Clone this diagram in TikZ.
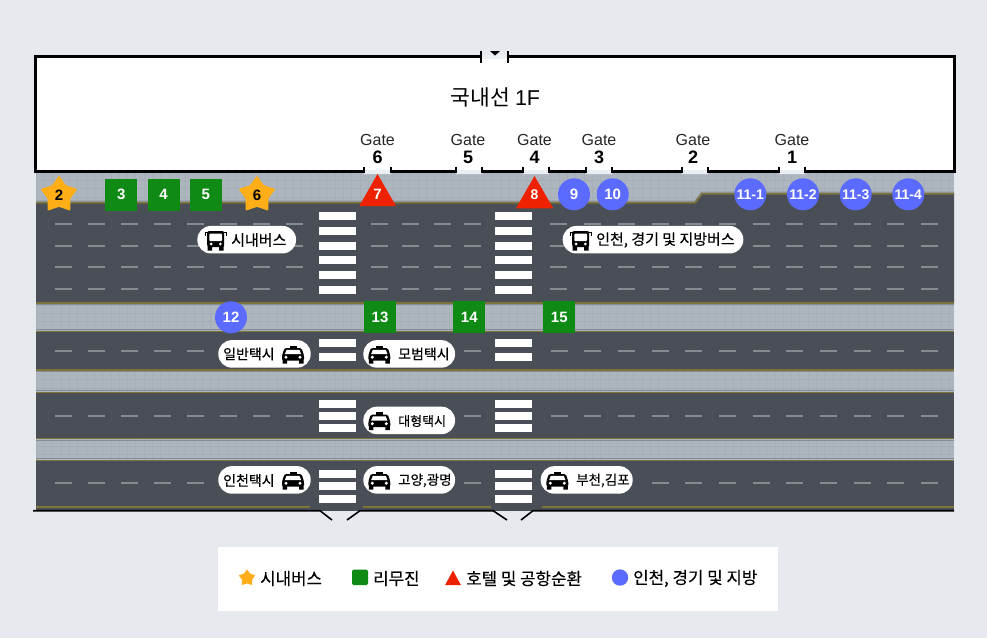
\documentclass[tikz,border=0pt]{standalone}
\usepackage{fontspec}
\setmainfont{Noto Sans CJK KR}
\newfontfamily\medf[FakeBold=0.25]{Noto Sans CJK KR}
\newfontfamily\latinf{Liberation Sans}
\usetikzlibrary{shapes.geometric}
\definecolor{bgc}{HTML}{E6EAEE}
\definecolor{walkc}{HTML}{ADB5BE}
\definecolor{gridc}{HTML}{A6AEB8}
\definecolor{edgec}{HTML}{868D95}
\definecolor{roadc}{HTML}{4A4F57}
\definecolor{yellowc}{HTML}{7C7438}
\definecolor{dashc}{HTML}{868A91}
\definecolor{greenc}{HTML}{0F8A15}
\definecolor{redc}{HTML}{EE2200}
\definecolor{bluec}{HTML}{5B6BFF}
\definecolor{starc}{HTML}{FFAE17}
\definecolor{doorc}{HTML}{ECEFF1}
\newcommand{\fsz}[1]{\fontsize{#1}{#1}\selectfont}
\tikzset{
  x=1pt,y=-1pt,
  wall/.style={draw=black,line width=3pt,line cap=butt,line join=miter},
  edgeline/.style={draw=edgec,line width=1pt},
  yline/.style={draw=yellowc,line width=1.7pt},
  lanedash/.style={draw=dashc,line width=2pt},
  zebra/.style={fill=white,draw=none},
  pill/.style={fill=white,draw=none,rounded corners=13.5pt,minimum height=27.5pt,inner sep=0pt},
  pilltext/.style={anchor=west,inner sep=0pt,text=black},
  gatetext/.style={inner sep=0pt,font=\latinf\fsz{16},text=black!85},
  gatenum/.style={inner sep=0pt,font=\latinf\bfseries\fsz{18},text=black},
  numtext/.style={text=white,font=\latinf\bfseries\fsz{15}},
  sq/.style={fill=greenc,draw=none,minimum size=32pt,inner sep=0pt,numtext},
  circ/.style={circle,fill=bluec,draw=none,minimum size=32pt,inner sep=0pt,numtext},
  starmark/.style={star,star points=5,star point ratio=1.65,fill=starc,draw=none,minimum size=39pt,inner sep=0pt,rounded corners=1.2pt,text=black,font=\latinf\bfseries\fsz{15}},
  trimark/.style={fill=redc,draw=none},
  legendtext/.style={anchor=west,inner sep=0pt,text=black,font=\medf\fsz{16.8}},
  busicon/.pic={
    \fill[black,rounded corners=2pt] (-8.5,-9) rectangle (8.5,7);
    \fill[black] (-8,6) rectangle (-3.5,10.5) (3.5,6) rectangle (8,10.5);
    \fill[white,rounded corners=.8pt] (-6.3,-6.3) rectangle (6.3,1);
    \fill[white] (-4.6,4) circle (1.5pt) (4.6,4) circle (1.5pt);
    \draw[black,line width=1.4pt] (-8,-7.5) -- (-10.5,-7.5) -- (-10.5,-4.5) (8,-7.5) -- (10.5,-7.5) -- (10.5,-4.5);
  },
  taxiicon/.pic={
    \fill[black] (-3.5,-9) rectangle (3.5,-6);
    \fill[black,rounded corners=1.5pt] (-8.5,-6.5) -- (8.5,-6.5) -- (11,1) -- (11,6) -- (-11,6) -- (-11,1) -- cycle;
    \fill[white] (-6.5,-4.6) -- (6.5,-4.6) -- (8.2,-.3) -- (-8.2,-.3) -- cycle;
    \fill[black] (-10.5,5) rectangle (-6,9) (6,5) rectangle (10.5,9);
    \fill[white] (-7,2.7) circle (1.7pt) (7,2.7) circle (1.7pt);
  }
}
\begin{document}
\begin{tikzpicture}
\useasboundingbox (0,0) rectangle (987,638);
\fill[bgc] (0,0) rectangle (987,638);
% building
\fill[white] (35,56.5) rectangle (955,171.5);
% sidewalks
\fill[walkc] (36,172) rectangle (954,507);
\begin{scope}
\clip (36,172) rectangle (954,507);
\foreach \i in {0,...,111}{\draw[gridc,line width=.4pt] ({36+8.3*\i},172) -- ({36+8.3*\i},507);}
\foreach \j in {0,...,41}{\draw[gridc,line width=.4pt] (36,{172+8.3*\j}) -- (954,{172+8.3*\j});}
\end{scope}
% roads
\fill[roadc] (36,202) -- (695,202) -- (702,193) -- (954,193) -- (954,304) -- (36,304) -- cycle;
\fill[roadc] (36,331) rectangle (954,371);
\fill[roadc] (36,392) rectangle (954,439);
\fill[roadc] (36,460) rectangle (954,510.5);
\draw[edgeline] (36,201) -- (695,201) -- (702,192) -- (954,192);
\draw[yline] (36,202.8) -- (695,202.8) -- (702,193.8) -- (954,193.8);
\draw[yline] (36,303) -- (954,303);
\draw[edgeline] (36,304.8) -- (954,304.8);
\draw[edgeline] (36,329.7) -- (954,329.7);
\draw[yline] (36,331.5) -- (954,331.5);
\draw[yline] (36,370) -- (954,370);
\draw[edgeline] (36,371.8) -- (954,371.8);
\draw[edgeline] (36,390.7) -- (954,390.7);
\draw[yline] (36,392.5) -- (954,392.5);
\draw[yline] (36,438.5) -- (954,438.5);
\draw[edgeline] (36,440.3) -- (954,440.3);
\draw[edgeline] (36,458.7) -- (954,458.7);
\draw[yline] (36,460.5) -- (954,460.5);
\draw[yline] (36,507) -- (310,507) (363,507) -- (491,507) (542,507) -- (954,507);
% lane dashes
\foreach \y in {224.3,245.7,267.3,288.7}{
  \foreach \a in {55,88,121,154,187,220,253,286,371,401.7,434,464.3,550,584,617.7,651.7,685,719,752.7,786,820,853.7,887,921}{
    \draw[lanedash] (\a,\y) -- ({\a+17},\y);}}
\foreach \a in {55,88,121,154,187,464.3,550.7,584,617.7,651.7,685,719,752.7,786,820,853.7,887,921}{
    \draw[lanedash] (\a,350.7) -- ({\a+17},350.7);}
\foreach \a in {55,88,121,154,187,220,253,286,464.3,550.7,584,617.7,651.7,685,719,752.7,786,820,853.7,887,921}{
    \draw[lanedash] (\a,415.7) -- ({\a+17},415.7);}
\foreach \a in {55,88,121,154,187,464.3,651.7,685,719,752.7,786,820,853.7,887,921}{
    \draw[lanedash] (\a,483.3) -- ({\a+17},483.3);}
% crosswalks
\foreach \y in {216.3,231,245.7,260.3,275,290,343.3,357.3,403.7,416,428.3,474,486.3,498.7}{
  \fill[zebra] (319.3,{\y-4}) rectangle (356,{\y+4});
  \fill[zebra] (494.7,{\y-4}) rectangle (532,{\y+4});
}
% bottom edge
\draw[black,line width=1.6pt] (33,510.7) -- (320,510.7) -- (332,520);
\draw[black,line width=1.6pt] (347,520) -- (360,510.7) -- (493,510.7) -- (507,520);
\draw[black,line width=1.6pt] (521,520) -- (533,510.7) -- (954,510.7);
% building walls
\fill[doorc] (364,170) rectangle (391,174) (456,170) rectangle (482,174) (523,170) rectangle (549,174) (586,170) rectangle (612,174) (682,170) rectangle (708,174) (779,170) rectangle (805,174);
\fill[doorc] (481,55) rectangle (508,59);
\draw[wall] (481,56.5) -- (35.5,56.5) -- (35.5,171.5) -- (364,171.5);
\draw[wall] (508,56.5) -- (954.5,56.5) -- (954.5,171.5) -- (805,171.5);
\draw[wall] (391,171.5) -- (456,171.5) (482,171.5) -- (523,171.5) (549,171.5) -- (586,171.5) (612,171.5) -- (682,171.5) (708,171.5) -- (779,171.5);
\foreach \x in {364,391,456,482,523,549,586,612,682,708,779,805}{
  \draw[black,line width=2pt] (\x,166.5) -- (\x,173);}
\draw[black,line width=2.2pt] (481,51) -- (481,63) (508,51) -- (508,63);
\fill[black] (490,51) -- (500,51) -- (495,55.5) -- cycle;
% texts in building
\node[inner sep=0pt,text=black,font=\fsz{21.5}] (title) at (495.5,97) {국내선 {\latinf 1F}};
\foreach \x/\n/\nm in {377.5/6/a,468/5/b,534.5/4/c,599/3/d,693/2/e,792/1/f}{
  \node[gatetext] (gate\nm) at (\x,140) {Gate};
  \node[gatenum] (num\nm) at (\x,157.5) {\n};
}
% pills
\node[pill,minimum width=98.7pt] (pa) at (246.7,239.7) {};
\node[pill,minimum width=180.6pt] (pb) at (653,239.7) {};
\node[pill,minimum width=92.4pt] (pc) at (264.5,353.9) {};
\node[pill,minimum width=91.7pt] (pd) at (409.2,353.9) {};
\node[pill,minimum width=91.7pt] (pe) at (409.2,420.4) {};
\node[pill,minimum width=92.4pt] (pf) at (264.5,479.9) {};
\node[pill,minimum width=91.7pt] (pg) at (409.2,479.9) {};
\node[pill,minimum width=92pt] (ph) at (586.7,479.9) {};
\pic at (215.7,240) {busicon};
\pic at (580.7,240) {busicon};
\pic at (293,354.5) {taxiicon};
\pic at (379.3,354.5) {taxiicon};
\pic at (379.3,421) {taxiicon};
\pic at (293,480.5) {taxiicon};
\pic at (379.3,480.5) {taxiicon};
\pic at (557.3,480.5) {taxiicon};
\node[pilltext,font=\medf\fsz{15}] (ta) at (231,240) {시내버스};
\node[pilltext,font=\medf\fsz{15}] (tb) at (596,240) {인천, 경기 및 지방버스};
\node[pilltext,font=\medf\fsz{14}] (tc) at (223,354) {일반택시};
\node[pilltext,font=\medf\fsz{14}] (td) at (398,354) {모범택시};
\node[pilltext,font=\medf\fsz{13}] (te) at (398,421) {대형택시};
\node[pilltext,font=\medf\fsz{14}] (tf) at (223,480.5) {인천택시};
\node[pilltext,font=\medf\fsz{13.5}] (tg) at (398,480.5) {고양,광명};
\node[pilltext,font=\medf\fsz{13.5}] (th) at (576,480.5) {부천,김포};
% markers
\node[starmark] (m2) at (59,195) {2};
\node[starmark] (m6) at (257,195) {6};
\node[sq] (m3) at (121.2,194.7) {3};
\node[sq] (m4) at (163.5,194.7) {4};
\node[sq] (m5) at (205.7,194.7) {5};
\fill[trimark] (377.5,174) -- (396,206) -- (359.3,206) -- cycle;
\node[numtext,inner sep=0pt] (m7) at (377.5,194.5) {7};
\fill[trimark] (534.5,176) -- (553.3,208.3) -- (516,208.3) -- cycle;
\node[numtext,inner sep=0pt,font=\latinf\bfseries\fsz{14}] (m8) at (534.5,194.5) {8};
\node[circ] (m9) at (574,194.3) {9};
\node[circ] (m10) at (612.7,194.3) {10};
\node[circ,font=\latinf\bfseries\fsz{14}] (m11a) at (750.3,194.3) {11-1};
\node[circ,font=\latinf\bfseries\fsz{14}] (m11b) at (803,194.3) {11-2};
\node[circ,font=\latinf\bfseries\fsz{14}] (m11c) at (855.7,194.3) {11-3};
\node[circ,font=\latinf\bfseries\fsz{14}] (m11d) at (908.3,194.3) {11-4};
\node[circ] (m12) at (231,317.3) {12};
\node[sq] (m13) at (380,317.3) {13};
\node[sq] (m14) at (469.3,317.3) {14};
\node[sq] (m15) at (559.3,317.3) {15};
% legend
\node[fill=white,draw=none,minimum width=560.5pt,minimum height=64pt,inner sep=0pt] (legend) at (498.2,578.7) {};
\node[star,star points=5,star point ratio=1.65,fill=starc,draw=none,minimum size=17.5pt,inner sep=0pt,rounded corners=.6pt] (lgstar) at (247,578) {};
\node[legendtext] (lga) at (260,578.5) {시내버스};
\fill[greenc,rounded corners=1.5pt] (352,569.5) rectangle (368,585);
\node[legendtext] (lgb) at (373,578.5) {리무진};
\fill[trimark] (453,570.5) -- (461,585.2) -- (445,585.2) -- cycle;
\node[legendtext] (lgc) at (466,578.5) {호텔 및 공항순환};
\fill[bluec] (620,577.5) circle (8.2pt);
\node[legendtext] (lgd) at (633,578.5) {인천, 경기 및 지방};
\end{tikzpicture}
\end{document}
